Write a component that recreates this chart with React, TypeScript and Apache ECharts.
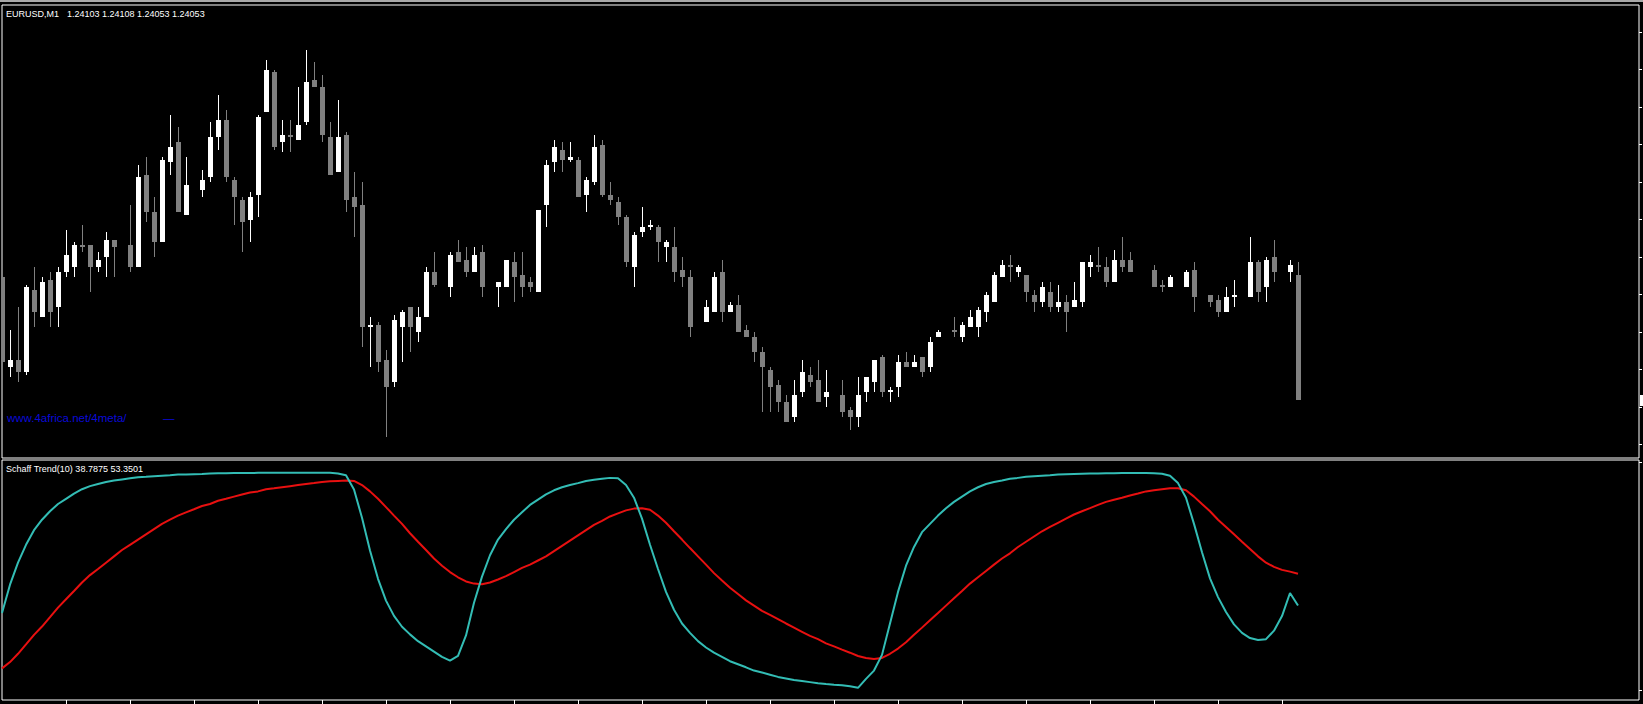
import React, { useEffect, useRef } from "react";
import * as echarts from "echarts";

// ---------- data (EURUSD, M1) ----------
// one entry per bar; null = doji bar drawn in the (invisible) line colour
const OPEN = [
  1.24102, 1.24066, 1.24069, 1.24064, 1.24097, 1.24086, 1.24101, 1.2409, 1.24104, 1.24106,
  1.24115, 1.24115, 1.24106, 1.2411, 1.24117, null, 1.24115, 1.24106, 1.24143, 1.24128,
  1.24116, 1.24148, 1.24156, 1.24127, null, 1.24137, 1.24142, 1.24158, 1.24165, 1.24141,
  1.24133, 1.24125, 1.24135, 1.24168, 1.24184, 1.24156, 1.24159, 1.24157, 1.24164, 1.24181,
  1.24178, 1.24158, 1.24144, 1.24159, 1.24134, 1.24131, 1.24082, 1.24083, 1.24069, 1.2406,
  1.24082, 1.2409, 1.2408, 1.24086, 1.24104, null, 1.24098, 1.24112, 1.24109, 1.24104,
  1.24112, null, 1.24098, 1.24098, 1.24108, 1.24103, 1.241, 1.24096, 1.24131, 1.24148,
  1.24153, 1.24149, 1.24149, 1.24135, 1.2414, 1.24155, 1.24135, 1.24132, 1.24126, 1.24106,
  1.2412, 1.24122, 1.24122, 1.24114, 1.24114, 1.24105, 1.24102, null, 1.24084, 1.24088,
  1.24104, 1.24088, 1.24091, 1.24081, 1.24078, 1.24072, 1.24065, 1.24059, 1.24052, 1.24046,
  1.24056, 1.24063, 1.24061, 1.24054, null, 1.24055, 1.24049, 1.24046, 1.24056, 1.2406,
  1.2407, 1.24056, 1.24058, 1.24068, 1.24066, 1.2407, 1.24066, 1.24078, null, 1.24081,
  1.24078, 1.24082, 1.24082, 1.24088, 1.24092, 1.24102, 1.24107, 1.24104, 1.24103, 1.24095,
  1.24092, 1.24096, 1.2409, 1.24092, 1.2409, 1.24092, 1.24106, 1.24107, 1.24106, 1.241,
  1.24109, 1.24109, null, null, 1.24105, 1.24099, 1.24098, null, 1.24098, 1.24105,
  null, 1.24095, 1.24093, 1.24088, 1.24094, null, 1.24094, 1.24108, 1.24098, 1.2411,
  null, 1.24104, 1.24103,
];
const HIGH = [
  1.24102, 1.24081, 1.2409, 1.24099, 1.24106, 1.24102, 1.24104, 1.24106, 1.24121, 1.24116,
  1.24123, 1.24115, 1.24112, 1.2412, 1.24117, null, 1.24131, 1.24147, 1.2415, 1.24134,
  1.2415, 1.24167, 1.24162, 1.2415, null, 1.24145, 1.24164, 1.24175, 1.24169, 1.24142,
  1.24134, 1.24136, 1.24167, 1.24189, 1.24185, 1.24165, 1.24165, 1.24178, 1.24193, 1.24188,
  1.24183, 1.24164, 1.24173, 1.2416, 1.24144, 1.2414, 1.24086, 1.24084, 1.24073, 1.24087,
  1.24089, 1.2409, 1.2409, 1.24106, 1.24112, null, 1.24112, 1.24117, 1.24114, 1.24114,
  1.24115, null, 1.241, 1.24109, 1.24112, 1.24112, 1.24102, 1.24129, 1.24149, 1.24157,
  1.24156, 1.24156, 1.2415, 1.24142, 1.24159, 1.24157, 1.2414, 1.24134, 1.24127, 1.2412,
  1.2413, 1.24125, 1.24123, 1.24117, 1.24122, 1.2411, 1.24105, null, 1.24093, 1.24104,
  1.24109, 1.24092, 1.24095, 1.24083, 1.2408, 1.24074, 1.24066, 1.24061, 1.24055, 1.24061,
  1.24069, 1.24066, 1.24069, 1.24065, null, 1.24061, 1.2405, 1.24062, 1.24062, 1.24069,
  1.24071, 1.24058, 1.24071, 1.24072, 1.24071, 1.2407, 1.24078, 1.24081, null, 1.24086,
  1.24084, 1.24089, 1.2409, 1.24096, 1.24104, 1.24109, 1.24111, 1.24107, 1.24103, 1.24097,
  1.241, 1.241, 1.24099, 1.24095, 1.241, 1.24108, 1.24111, 1.24114, 1.2411, 1.24113,
  1.24118, 1.24112, null, null, 1.24107, 1.24101, 1.24103, null, 1.24105, 1.24108,
  null, 1.24095, 1.24095, 1.24098, 1.24101, null, 1.24118, 1.24109, 1.2411, 1.24117,
  null, 1.24109, 1.24108,
];
const LOW = [
  1.24062, 1.24062, 1.2406, 1.24063, 1.24082, 1.24086, 1.24082, 1.24082, 1.24102, 1.24102,
  1.24112, 1.24096, 1.24104, 1.24102, 1.24102, null, 1.24104, 1.24106, 1.24124, 1.2411,
  1.24116, 1.24143, 1.24128, 1.24127, null, 1.24134, 1.2414, 1.24153, 1.2414, 1.24123,
  1.24112, 1.24116, 1.24126, 1.24168, 1.24153, 1.24152, 1.24152, 1.24157, 1.24163, 1.24178,
  1.24156, 1.24143, 1.24144, 1.24128, 1.24118, 1.24074, 1.24066, 1.24064, 1.24038, 1.24058,
  1.24068, 1.24072, 1.24076, 1.24086, 1.24098, null, 1.24094, 1.24108, 1.24102, 1.24104,
  1.24094, null, 1.2409, 1.24098, 1.24092, 1.24094, 1.24096, 1.24096, 1.24122, 1.24144,
  1.24144, 1.24148, 1.24134, 1.24128, 1.24139, 1.24134, 1.24131, 1.24123, 1.24106, 1.24098,
  1.24118, 1.24121, 1.24108, 1.24108, 1.241, 1.24098, 1.24078, null, 1.24084, 1.24088,
  1.24084, 1.24088, 1.2408, 1.24078, 1.24068, 1.24048, 1.24048, 1.24048, 1.24044, 1.24044,
  1.24054, 1.24058, 1.24052, 1.2405, null, 1.24046, 1.24041, 1.24042, 1.24052, 1.24056,
  1.24054, 1.24052, 1.24054, 1.24066, 1.24066, 1.24062, 1.24064, 1.24078, null, 1.24078,
  1.24076, 1.24082, 1.24078, 1.24084, 1.24092, 1.24102, 1.241, 1.24102, 1.24092, 1.24088,
  1.2409, 1.24088, 1.24088, 1.2408, 1.2409, 1.2409, 1.24102, 1.24104, 1.24098, 1.241,
  1.24104, 1.24104, null, null, 1.24098, 1.24096, 1.24098, null, 1.24098, 1.24088,
  null, 1.2409, 1.24086, 1.24088, 1.2409, null, 1.24094, 1.24092, 1.24092, 1.241,
  null, 1.241, 1.24053,
];
const CLOSE = [
  1.24068, 1.24069, 1.24064, 1.24098, 1.24088, 1.241, 1.24088, 1.24104, 1.24111, 1.24115,
  1.24114, 1.24106, 1.24109, 1.24117, 1.24114, null, 1.24106, 1.24142, 1.24128, 1.24116,
  1.24149, 1.24154, 1.24128, 1.24139, null, 1.24141, 1.24158, 1.24165, 1.24142, 1.24134,
  1.24124, 1.24134, 1.24166, 1.24185, 1.24154, 1.24159, 1.24158, 1.24163, 1.2418, 1.24178,
  1.24159, 1.24143, 1.24158, 1.24133, 1.2413, 1.24082, 1.24083, 1.24068, 1.24058, 1.24085,
  1.24088, 1.24082, 1.24086, 1.24104, 1.24099, null, 1.24111, 1.24108, 1.24104, 1.24111,
  1.24098, null, 1.241, 1.24109, 1.24102, 1.24098, 1.24098, 1.24129, 1.24147, 1.24154,
  1.24149, 1.2415, 1.24134, 1.24141, 1.24154, 1.24135, 1.24133, 1.24126, 1.24108, 1.24119,
  1.24122, 1.24123, 1.24116, 1.24116, 1.24104, 1.24102, 1.24082, null, 1.2409, 1.24102,
  1.24088, 1.24091, 1.2408, 1.24078, 1.24072, 1.24066, 1.24058, 1.24052, 1.24044, 1.24055,
  1.24064, 1.2406, 1.24052, 1.24056, null, 1.24048, 1.24046, 1.24055, 1.24062, 1.24069,
  1.24056, 1.24057, 1.24068, 1.24066, 1.24068, 1.24064, 1.24076, 1.2408, null, 1.2408,
  1.24083, 1.24086, 1.24089, 1.24095, 1.24103, 1.24107, 1.24106, 1.24106, 1.24096, 1.24092,
  1.24098, 1.2409, 1.24092, 1.24088, 1.24093, 1.24108, 1.24108, 1.24106, 1.241, 1.24109,
  1.24106, 1.24104, null, null, 1.24098, 1.24098, 1.24102, null, 1.24104, 1.24094,
  null, 1.24092, 1.24088, 1.24094, 1.24095, null, 1.24108, 1.24096, 1.24109, 1.24104,
  null, 1.24107, 1.24053,
];

// Schaff Trend(10): first buffer (light sea green) and second buffer (red)
const STC_MAIN = [
  35.3, 48.3, 58.4, 66.6, 73.3, 78.1, 82.0, 85.3, 87.7, 90.1,
  92.1, 93.5, 94.5, 95.4, 96.1, 96.6, 97.1, 97.6, 97.8, 98.1,
  98.3, 98.5, 98.8, 98.9, 99.0, 99.1, 99.3, 99.4, 99.4, 99.5,
  99.5, 99.5, 99.6, 99.6, 99.6, 99.6, 99.7, 99.7, 99.7, 99.7,
  99.7, 99.6, 99.3, 98.5, 92.0, 79.0, 64.0, 51.0, 41.0, 34.0,
  29.0, 25.5, 22.4, 20.0, 17.6, 15.2, 13.5, 15.6, 25.0, 40.0,
  52.0, 61.8, 69.0, 73.8, 78.1, 81.5, 84.9, 87.3, 89.7, 91.6,
  93.0, 94.0, 94.9, 95.9, 96.4, 96.9, 97.3, 97.1, 94.0, 88.2,
  78.6, 66.6, 55.5, 45.0, 36.8, 30.5, 26.2, 22.4, 19.5, 17.1,
  15.2, 13.2, 11.8, 10.4, 8.9, 8.0, 7.0, 6.0, 5.3, 4.6,
  4.1, 3.6, 3.1, 2.7, 2.4, 2.2, 1.7, 1.0, 5.1, 8.9,
  16.1, 30.5, 45.0, 57.0, 65.6, 72.4, 76.2, 80.0, 83.4, 86.3,
  88.7, 91.1, 93.0, 94.5, 95.4, 96.1, 96.9, 97.3, 97.8, 98.1,
  98.3, 98.5, 98.8, 99.0, 99.1, 99.2, 99.3, 99.3, 99.4, 99.4,
  99.5, 99.5, 99.5, 99.5, 99.4, 99.2, 98.3, 94.9, 88.2, 76.2,
  63.2, 51.2, 42.6, 35.8, 30.1, 26.2, 23.8, 22.9, 23.3, 27.2,
  33.9, 44.5, 38.7875,
];
const STC_SIGNAL = [
  9.9, 12.8, 16.6, 20.9, 25.3, 29.1, 33.4, 37.8, 41.6, 45.4,
  49.3, 52.7, 55.5, 58.4, 61.3, 64.2, 66.6, 69.0, 71.4, 73.8,
  76.2, 78.1, 80.0, 81.5, 82.9, 84.4, 85.3, 86.8, 87.7, 88.7,
  89.7, 90.6, 91.1, 92.1, 92.5, 93.0, 93.5, 94.0, 94.5, 94.9,
  95.4, 95.7, 95.9, 96.1, 95.9, 94.0, 91.1, 87.7, 83.9, 80.0,
  76.2, 71.9, 68.0, 64.2, 60.3, 57.0, 54.1, 51.7, 49.8, 48.8,
  48.5, 49.3, 50.7, 52.2, 54.1, 56.0, 57.5, 59.4, 61.3, 63.7,
  66.1, 68.5, 70.9, 73.3, 75.7, 77.6, 79.6, 81.0, 82.4, 83.2,
  83.4, 82.7, 80.0, 76.7, 72.8, 69.0, 65.1, 61.3, 57.5, 53.6,
  50.2, 46.9, 44.0, 41.1, 38.7, 36.3, 34.4, 32.5, 30.5, 28.6,
  26.7, 24.8, 23.3, 21.4, 20.0, 18.5, 17.1, 15.6, 14.7, 14.2,
  14.7, 16.6, 19.0, 21.9, 25.3, 28.6, 32.0, 35.3, 38.7, 42.1,
  45.4, 48.8, 51.7, 54.6, 57.5, 60.3, 62.7, 65.6, 68.0, 70.4,
  72.8, 74.8, 76.7, 78.6, 80.5, 82.0, 83.4, 84.9, 86.3, 87.3,
  88.2, 89.2, 90.1, 91.1, 91.6, 92.1, 92.5, 92.5, 91.6, 88.7,
  85.3, 82.0, 78.1, 74.8, 71.4, 68.0, 64.7, 61.3, 58.4, 56.5,
  55.1, 54.3, 53.3501,
];

// axis marks
const TIME_TICKS = [8, 16, 24, 32, 40, 48, 56, 64, 72, 80, 88, 96, 104, 112, 120, 128, 136, 144, 152, 160];
const PRICE_TICKS = [1.24035, 1.2405, 1.24065, 1.2408, 1.24095, 1.2411, 1.24125, 1.2414, 1.24155, 1.2417, 1.24185, 1.242];
const STC_TICKS = [0, 104.6];
const PRICE_MIN = 1.240296;
const PRICE_MAX = 1.242108;
const STC_MIN = -4.6;
const STC_MAX = 105.5;
const X_MAX = 204.625; // visible bar slots incl. chart shift

const SYMBOL = "EURUSD,M1";
const INDICATOR = "Schaff Trend(10)";
const URL_TEXT = "www.4africa.net/4meta/";

export default function App() {
  const ref = useRef<HTMLDivElement>(null);

  useEffect(() => {
    document.body.style.margin = "0";
    document.body.style.background = "#000";
    const el = ref.current as HTMLDivElement;
    const chart = echarts.init(el, null, { renderer: "svg" });

    const candles: number[][] = [];
    for (let i = 0; i < OPEN.length; i++) {
      if (OPEN[i] != null) candles.push([i, OPEN[i] as number, CLOSE[i] as number, LOW[i] as number, HIGH[i] as number]);
    }
    const last = OPEN.length - 1;
    const header = [OPEN[last], HIGH[last], LOW[last], CLOSE[last]].map((v) => (v as number).toFixed(5)).join(" ");
    const stcHeader =
      INDICATOR + " " + STC_MAIN[STC_MAIN.length - 1].toFixed(4) + " " + STC_SIGNAL[STC_SIGNAL.length - 1].toFixed(4);

    const font9 = '9px "Liberation Sans", Arial, sans-serif';
    const baseGraphic: any[] = [
      { id: "topbar", type: "rect", shape: { x: 0, y: 0, width: 1643, height: 2 }, style: { fill: "#a8a8a8" }, silent: true },
      { id: "sym", type: "text", x: 6, y: 14, style: { text: SYMBOL, fill: "#ffffff", font: font9, verticalAlign: "middle" } },
      { id: "ohlc", type: "text", x: 67, y: 14, style: { text: header, fill: "#ffffff", font: font9, verticalAlign: "middle" } },
      {
        id: "url", type: "text", x: 7, y: 418,
        style: { text: URL_TEXT, fill: "#0a0ad8", font: '11.5px "Liberation Sans", Arial, sans-serif', verticalAlign: "middle" },
      },
      {
        id: "dash", type: "text", x: 163, y: 418,
        style: { text: "\u2014", fill: "#0a0ad8", font: '11.5px "Liberation Sans", Arial, sans-serif', verticalAlign: "middle" },
      },
      { id: "stc", type: "text", x: 6, y: 469, style: { text: stcHeader, fill: "#ffffff", font: font9, verticalAlign: "middle" } },
    ];

    const hiddenLine = { show: false, onZero: false };
    const option: any = {
      animation: false,
      backgroundColor: "#000000",
      grid: [
        { left: 2, top: 5, width: 1637, height: 453, show: true, borderColor: "#ffffff", borderWidth: 1, backgroundColor: "transparent" },
        { left: 2, top: 460, width: 1637, height: 240, show: true, borderColor: "#ffffff", borderWidth: 1, backgroundColor: "transparent" },
      ],
      xAxis: [
        { type: "value", gridIndex: 0, min: 0, max: X_MAX, show: false, axisLine: hiddenLine },
        {
          type: "value", gridIndex: 1, min: 0, max: X_MAX, position: "bottom",
          axisLine: hiddenLine,
          axisLabel: { show: false },
          splitLine: { show: false },
          axisTick: { show: true, inside: false, length: 4, customValues: TIME_TICKS, lineStyle: { color: "#ffffff", width: 1 } },
        },
      ],
      yAxis: [
        {
          type: "value", gridIndex: 0, min: PRICE_MIN, max: PRICE_MAX, position: "right", scale: true,
          axisLine: hiddenLine,
          axisLabel: { show: false },
          splitLine: { show: false },
          axisTick: { show: true, inside: false, length: 3, customValues: PRICE_TICKS, lineStyle: { color: "#ffffff", width: 1 } },
        },
        {
          type: "value", gridIndex: 1, min: STC_MIN, max: STC_MAX, position: "right",
          axisLine: hiddenLine,
          axisLabel: { show: false },
          splitLine: { show: false },
          axisTick: { show: true, inside: false, length: 3, customValues: STC_TICKS, lineStyle: { color: "#ffffff", width: 1 } },
        },
      ],
      series: [
        {
          type: "custom",
          name: SYMBOL,
          xAxisIndex: 0,
          yAxisIndex: 0,
          clip: true,
          data: candles,
          renderItem: (params: any, api: any) => {
            const x = api.value(0);
            const o = api.value(1);
            const c = api.value(2);
            const l = api.value(3);
            const h = api.value(4);
            const po = api.coord([x, o]);
            const pc = api.coord([x, c]);
            const pl = api.coord([x, l]);
            const ph = api.coord([x, h]);
            const cx = Math.round(po[0]);
            const color = c >= o ? "#ffffff" : "#808080";
            const top = Math.round(Math.min(po[1], pc[1]));
            const bot = Math.round(Math.max(po[1], pc[1]));
            const hy = Math.round(ph[1]);
            const ly = Math.round(pl[1]);
            return {
              type: "group",
              children: [
                { type: "rect", shape: { x: cx, y: hy, width: 1, height: Math.max(1, ly - hy) }, style: { fill: color } },
                { type: "rect", shape: { x: cx - 2, y: top, width: 5, height: Math.max(1, bot - top) }, style: { fill: color } },
              ],
            };
          },
        },
        {
          type: "line",
          name: "Signal",
          xAxisIndex: 1,
          yAxisIndex: 1,
          data: STC_SIGNAL.map((v, i) => [i, v]),
          showSymbol: false,
          symbol: "none",
          smooth: false,
          lineStyle: { color: "#e81010", width: 2 },
        },
        {
          type: "line",
          name: "Schaff",
          xAxisIndex: 1,
          yAxisIndex: 1,
          data: STC_MAIN.map((v, i) => [i, v]),
          showSymbol: false,
          symbol: "none",
          smooth: false,
          lineStyle: { color: "#33bdb5", width: 2 },
        },
      ],
      graphic: baseGraphic,
    };

    chart.setOption(option);

    // current price marker on the (clipped) price scale
    const py = chart.convertToPixel({ yAxisIndex: 0 }, CLOSE[last] as number) as number;
    chart.setOption({
      graphic: baseGraphic.concat([
        { id: "pricemark", type: "rect", shape: { x: 1640, y: Math.round(py) - 5, width: 3, height: 11 }, style: { fill: "#ffffff" } },
      ]),
    });

    return () => {
      chart.dispose();
    };
  }, []);

  return <div ref={ref} style={{ width: 1643, height: 704, background: "#000" }} />;
}
